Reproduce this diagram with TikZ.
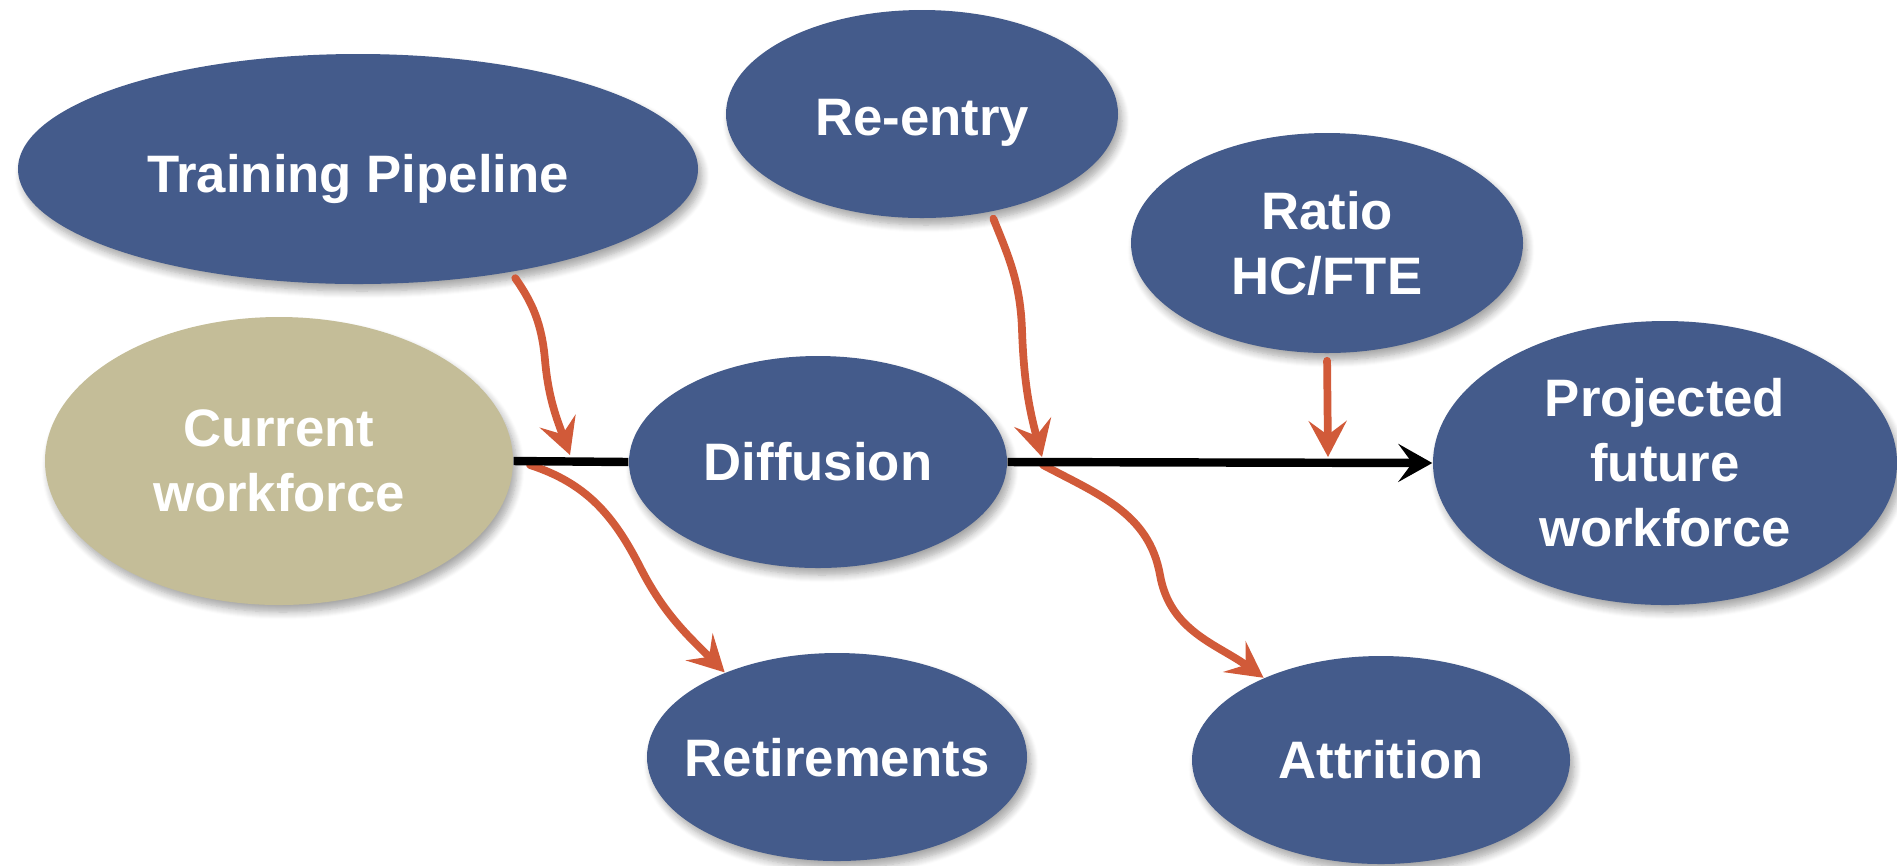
\documentclass[tikz,border=0pt]{standalone}
\usepackage{fontspec}
\setmainfont{Liberation Sans}
\usetikzlibrary{shapes.geometric,arrows.meta,shadows.blur}
\definecolor{ovalblue}{RGB}{68,91,139}
\definecolor{ovaltan}{RGB}{196,189,152}
\definecolor{floworange}{RGB}{209,90,57}

\begin{document}
\begin{tikzpicture}[
    bubble/.style={ellipse,fill=ovalblue,text=white,inner sep=0pt,align=center,
        font=\fontsize{15}{18.5}\selectfont\bfseries,
        blur shadow={shadow xshift=0.04cm,shadow yshift=-0.07cm,shadow blur steps=8,shadow opacity=35}},
    flow/.style={floworange,line width=2.2pt,line cap=round,
        -{Stealth[length=0.36cm,width=0.38cm,inset=0.14cm]}},
    mainline/.style={black,line width=2.4pt}]
    \useasboundingbox (0,0) rectangle (18.97,-8.65);

    \node[bubble,minimum width=6.8cm,minimum height=2.3cm,text height=13.5pt,text depth=0pt] (train) at (3.58,-1.69) {Training Pipeline};
    \node[bubble,minimum width=3.92cm,minimum height=2.08cm,text height=12.5pt,text depth=0pt] (reentry) at (9.22,-1.14) {Re-entry};
    \node[bubble,minimum width=3.92cm,minimum height=2.2cm] (ratio) at (13.27,-2.43) {Ratio\\HC/FTE};
    \node[bubble,fill=ovaltan,minimum width=4.68cm,minimum height=2.88cm] (current) at (2.79,-4.61) {Current\\workforce};
    \node[bubble,minimum width=3.78cm,minimum height=2.12cm] (diffusion) at (8.18,-4.62) {Diffusion};
    \node[bubble,minimum width=4.64cm,minimum height=2.84cm] (projected) at (16.65,-4.63) {Projected\\future\\workforce};
    \node[bubble,minimum width=3.78cm,minimum height=2.08cm,inner xsep=-0.18cm,text depth=0pt] (retire) at (8.37,-7.57) {Retirements};
    \node[bubble,minimum width=3.78cm,minimum height=2.08cm] (attrition) at (13.81,-7.60) {Attrition};

    % points on the main line
    \coordinate (trainIn) at (5.70,-4.55);
    \coordinate (retireOut) at (5.30,-4.65);
    \coordinate (reentryIn) at (10.42,-4.57);
    \coordinate (attritionOut) at (10.43,-4.65);
    \coordinate (ratioIn) at (13.28,-4.57);

    \draw[flow,shorten <=2pt] (train.-34) to[out=-55,in=95] (5.45,-3.6) to[out=-85,in=110] (trainIn);
    \draw[flow] (retireOut) to[out=-18,in=117] (6.40,-5.67) to[out=-63,in=135] (retire.143);
    \draw[flow,shorten <=2pt] (reentry.-55) to[out=-68,in=92] (10.22,-3.3) to[out=-88,in=105] (reentryIn);
    \draw[flow] (attritionOut) to[out=-28,in=100] (11.6,-5.75) to[out=-80,in=144] (attrition.145);
    \draw[flow,shorten <=2pt] (ratio.south) -- (ratioIn);

    \draw[mainline] (current.east) -- (diffusion.west);
    \draw[mainline,-{Stealth[length=0.34cm,width=0.38cm,inset=0.14cm]}] (diffusion.east) -- (projected.west);
\end{tikzpicture}
\end{document}
